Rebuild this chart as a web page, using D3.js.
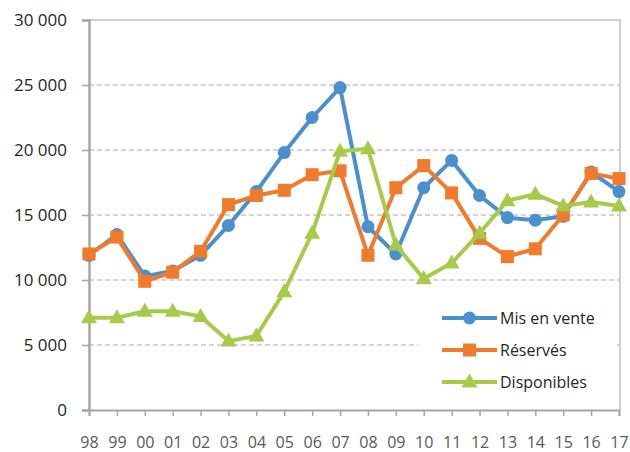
<!DOCTYPE html>
<html>
<head>
<meta charset="UTF-8">
<title>Logements</title>
<script src="https://d3js.org/d3.v7.min.js"></script>
<style>
  body { margin: 0; background: #fff; }
  svg { display: block; font-family: "Open Sans", sans-serif; }
</style>
</head>
<body>
<svg width="630" height="452"></svg>
<script>
// années (libellés de l'axe)
const years = ["98","99","00","01","02","03","04","05","06","07","08","09","10","11","12","13","14","15","16","17"];
const misEnVente = [11900,13500,10300,10700,11900,14200,16800,19800,22500,24800,14100,12000,17100,19200,16500,14800,14600,14900,18300,16800];
const reserves = [12000,13300,9900,10600,12200,15800,16500,16900,18100,18400,11900,17100,18800,16700,13200,11800,12400,15000,18200,17800];
const disponibles = [7100,7100,7600,7600,7200,5300,5700,9100,13600,19900,20100,12700,10100,11300,13600,16100,16600,15700,16000,15700];
const yTicks = [0,5000,10000,15000,20000,25000,30000];

const series = [
  {name: "Mis en vente", values: misEnVente, color: "#4a90d0", shape: "circle"},
  {name: "Réservés", values: reserves, color: "#f07b2c", shape: "square"},
  {name: "Disponibles", values: disponibles, color: "#a6cb4a", shape: "triangle"}
];

const mLeft = 89, mRight = 619, mTop = 20, mBottom = 410;
const svg = d3.select("svg");

const x = d3.scalePoint().domain(years).range([mLeft, mRight]).padding(0);
const y = d3.scaleLinear().domain([0, 30000]).range([mBottom, mTop]);
const fmt = v => d3.format(",")(v).replace(/,/g, " ");

// grille pointillée
svg.append("g").selectAll("line")
  .data(yTicks.filter(t => t > 0 && t < 30000))
  .enter().append("line")
  .attr("x1", mLeft).attr("x2", mRight + 1)
  .attr("y1", d => y(d)).attr("y2", d => y(d))
  .attr("stroke", "#c6c6c6").attr("stroke-width", 1.5)
  .attr("stroke-dasharray", "5,3");

// cadre haut et droit
svg.append("path")
  .attr("d", "M" + mLeft + "," + y(30000) + "H" + (mRight + 1) + "V" + mBottom)
  .attr("fill", "none").attr("stroke", "#cfcfcf").attr("stroke-width", 2);

// axe Y
const yAxis = svg.append("g")
  .attr("transform", "translate(" + mLeft + ",0)")
  .call(d3.axisLeft(y).tickValues(yTicks).tickFormat(fmt).tickSize(7).tickPadding(15));
yAxis.select(".domain").attr("stroke", "#a6a6a6").attr("stroke-width", 2.5);
yAxis.selectAll(".tick line").attr("stroke", "#a6a6a6").attr("stroke-width", 1.5);
yAxis.selectAll("text").attr("font-size", 17).attr("fill", "#262626")
  .attr("font-family", "Open Sans, sans-serif");

// axe X
const xAxis = svg.append("g")
  .attr("transform", "translate(0," + mBottom + ")")
  .call(d3.axisBottom(x).tickSize(6).tickPadding(21));
xAxis.select(".domain").attr("stroke", "#a6a6a6").attr("stroke-width", 2);
xAxis.selectAll(".tick line").attr("stroke", "#a6a6a6").attr("stroke-width", 1.5);
xAxis.selectAll("text").attr("font-size", 16).attr("fill", "#595959")
  .attr("font-family", "Open Sans, sans-serif");

const line = d3.line().x((d, i) => x(years[i])).y(d => y(d));

function marker(sel, shape, color) {
  if (shape === "circle") {
    sel.append("circle").attr("r", 6.5).attr("fill", color);
  } else if (shape === "square") {
    sel.append("rect").attr("x", -6.5).attr("y", -6.5).attr("width", 13).attr("height", 13).attr("fill", color);
  } else {
    sel.append("path").attr("d", "M0,-8.5L8,5.5L-8,5.5Z").attr("fill", color);
  }
}

series.forEach(s => {
  const g = svg.append("g");
  g.append("path").datum(s.values)
    .attr("d", line)
    .attr("fill", "none").attr("stroke", s.color)
    .attr("stroke-width", 4).attr("stroke-linejoin", "round");
  g.selectAll("g.pt").data(s.values).enter().append("g")
    .attr("class", "pt")
    .attr("transform", (d, i) => "translate(" + x(years[i]) + "," + y(d) + ")")
    .each(function () { marker(d3.select(this), s.shape, s.color); });
});

// légende
const legend = svg.append("g");
legend.append("rect")
  .attr("x", 418).attr("y", 298).attr("width", 197).attr("height", 100)
  .attr("fill", "#fff");
series.forEach((s, i) => {
  const ly = 318 + i * 32;
  legend.append("line")
    .attr("x1", 442).attr("x2", 497).attr("y1", ly).attr("y2", ly)
    .attr("stroke", s.color).attr("stroke-width", 4);
  const m = legend.append("g").attr("transform", "translate(469.5," + ly + ")");
  marker(m, s.shape, s.color);
  legend.append("text")
    .attr("x", 500).attr("y", ly).attr("dy", "0.35em")
    .attr("font-size", 16).attr("fill", "#262626")
    .text(s.name);
});
</script>
</body>
</html>
